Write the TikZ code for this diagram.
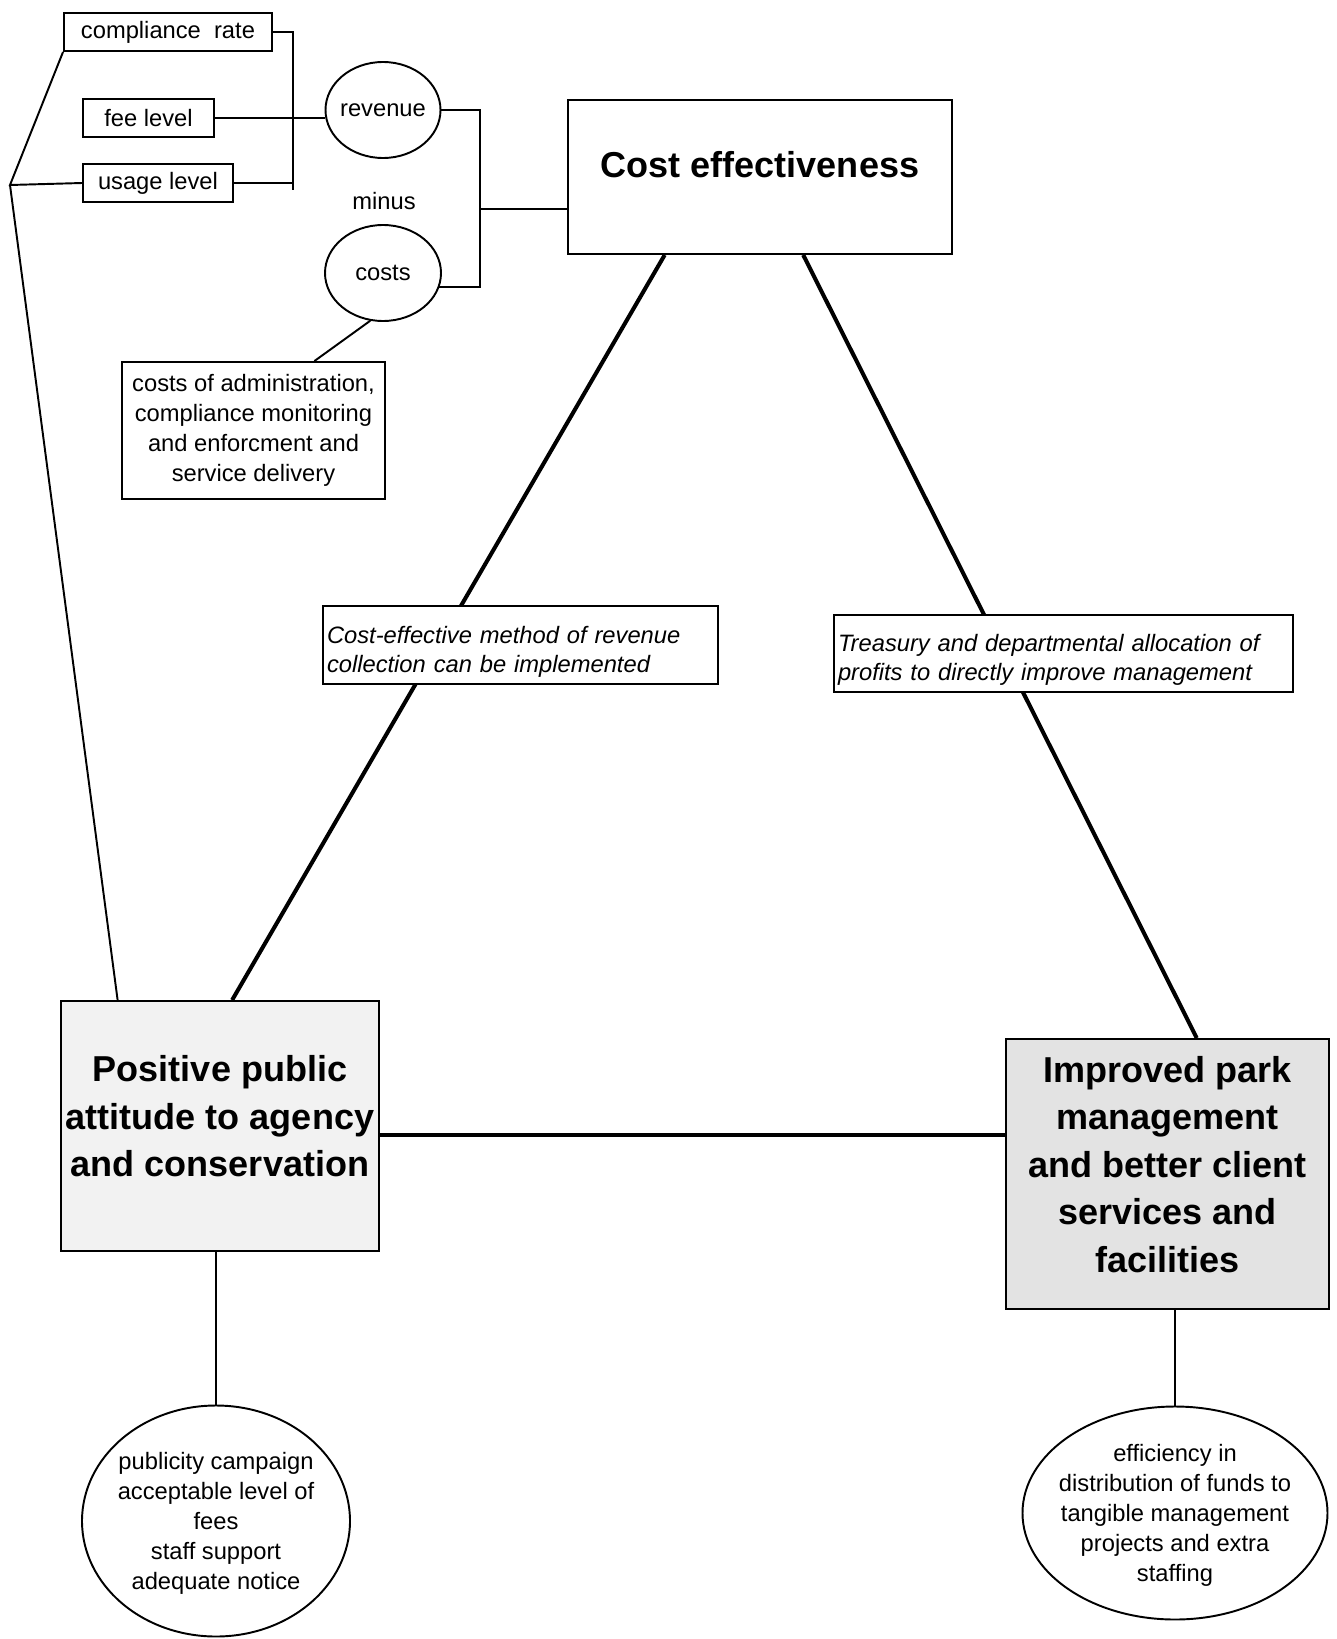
\documentclass[tikz,border=0pt]{standalone}
\usepackage{fontspec}
\setmainfont{Liberation Sans}
\usepackage{tikz}
\usetikzlibrary{calc,shapes.geometric}
\newcommand\pxu{0.02cm}
\tikzset{
  wire/.style={draw=black, line width=1.1pt},
  tri/.style={draw=black, line width=2.3pt},
  smallbox/.style={draw=black, line width=1.1pt, inner sep=0pt, minimum height=38*\pxu, font=\fontsize{13.5}{17}\selectfont},
  oval/.style={ellipse, draw=black, line width=1.1pt, inner xsep=-6pt, inner ysep=0pt, align=center, font=\fontsize{13.5}{17}\selectfont},
  textbox/.style={draw=black, line width=1.1pt, inner sep=0pt, align=center, font=\fontsize{13.5}{17}\selectfont},
  mainbox/.style={draw=black, line width=1.1pt, inner sep=0pt, align=center, font=\fontsize{20.5}{27}\bfseries},
  note/.style={draw=black, line width=1.1pt, fill=white, inner xsep=4*\pxu, inner ysep=0pt, align=left, text depth=12pt, font=\fontsize{13.5}{16.7}\itshape},
}

\begin{document}
\begin{tikzpicture}[x=\pxu, y=-\pxu]
  \useasboundingbox (0,0) rectangle (1336,1639);
  \foreach \n/\x/\y/\w/\t in {comp/168/32/208/compliance\ \ rate, fee/148.5/118/131/fee level, usage/158/183/150/usage level}
    \node[smallbox, minimum width=\w*\pxu] (\n) at (\x,\y) {\t};
  \node[oval, minimum width=115*\pxu, minimum height=96*\pxu] (rev) at (383,110) {revenue};
  \node[oval, minimum width=116*\pxu, minimum height=96*\pxu] (costs) at (383,273) {costs};
  \node[font=\fontsize{13.5}{17}\selectfont] (minus) at (384,201) {minus};
  \node[textbox, minimum width=263*\pxu, minimum height=137*\pxu] (adm) at (253.5,430.5)
    {costs of administration,\\compliance monitoring\\and enforcment and\\service delivery};
  \node[mainbox, minimum width=384*\pxu, minimum height=154*\pxu, text depth=14pt] (cost) at (760,177) {Cost effectiveness};
  \node[mainbox, fill=black!5, minimum width=318*\pxu, minimum height=250*\pxu, text depth=11pt] (pos) at (220,1126)
    {Positive public\\attitude to agency\\and conservation};
  \node[mainbox, fill=black!11, minimum width=323*\pxu, minimum height=270*\pxu, text depth=11pt] (imp) at (1167.5,1174)
    {Improved park\\management\\and better client\\services and\\facilities};
  \node[oval, minimum width=268*\pxu, minimum height=231*\pxu, text depth=-8pt] (pub) at (216,1521)
    {publicity campaign\\acceptable level of\\fees\\staff support\\adequate notice};
  \node[oval, minimum width=305*\pxu, minimum height=213*\pxu, text depth=-8pt] (eff) at (1175,1513)
    {efficiency in\\distribution of funds to\\tangible management\\projects and extra\\staffing};
  \coordinate (lbrk) at (293,190);
  \coordinate (rbrk) at (480,209);
  \coordinate (spine) at (10,185);
  \coordinate (mid) at (0,1135);
  \draw[wire] (comp.east) -| (lbrk);
  \draw[wire] (usage.east) -- (usage.east -| lbrk);
  \draw[wire] (fee.east) -- (fee.east -| rev.west);
  \draw[wire] (rev.east) -- (rev.east -| rbrk) |- (costs.-14);
  \draw[wire] (rbrk) -- (rbrk -| cost.west);
  \draw[wire] (comp.south west) -- (spine) -- (usage.west);
  \draw[wire] (spine) -- ($(pos.north west)!0.18!(pos.north east)$);
  \draw[wire] ($(adm.north west)!0.73!(adm.north east)$) -- (costs.255);
  \draw[tri] ($(cost.south west)!0.253!(cost.south east)$) -- ($(pos.north west)!0.538!(pos.north east)$);
  \draw[tri] ($(cost.south west)!0.612!(cost.south east)$) -- ($(imp.north west)!0.59!(imp.north east)$);
  \draw[tri] (pos.east |- mid) -- (imp.west |- mid);
  \draw[wire] (pub.north) -- (pub.north |- pos.south);
  \draw[wire] (eff.north) -- (eff.north |- imp.south);
  \node[note, text width=387*\pxu, minimum height=78*\pxu] (lblL) at (520.5,645)
    {Cost-effective method of revenue\\collection can be implemented};
  \node[note, text width=451*\pxu, minimum height=77*\pxu] (lblR) at (1063.5,653.5)
    {Treasury and departmental allocation of\\profits to directly improve management};
\end{tikzpicture}
\end{document}
